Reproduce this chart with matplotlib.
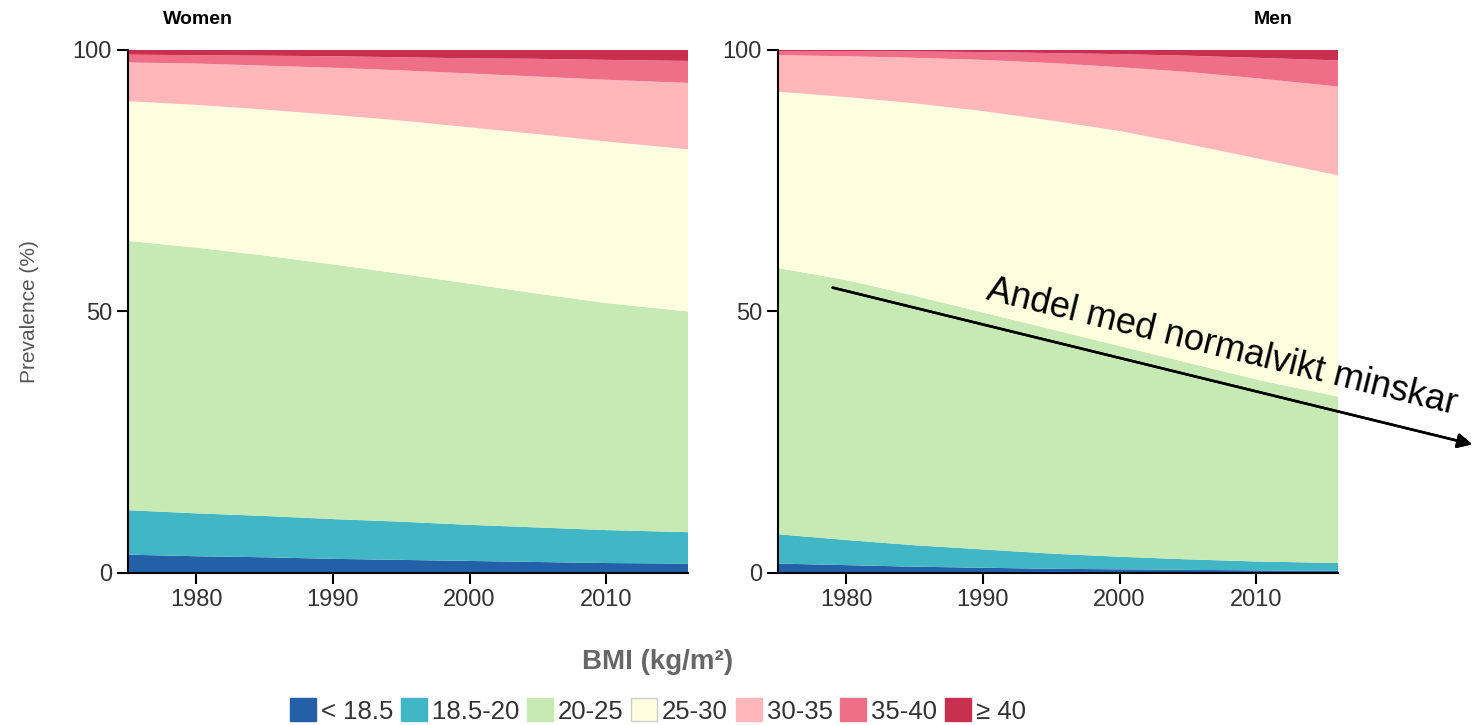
import matplotlib.pyplot as plt
from matplotlib.patches import Patch

plt.rcParams['font.family'] = ['Liberation Sans', 'DejaVu Sans']

years = [1975, 1980, 1985, 1990, 1995, 2000, 2005, 2010, 2016]
categories = ["< 18.5", "18.5-20", "20-25", "25-30", "30-35", "35-40", "\u2265 40"]
colors = ["#2460a7", "#41b6c4", "#c7e9b4", "#ffffe0", "#ffb7ba", "#ef6f89", "#c9304f"]

# share of population (%) in each BMI band
women = [
    [3.5, 3.2, 3.0, 2.7, 2.5, 2.3, 2.1, 1.9, 1.8],
    [8.5, 8.2, 7.9, 7.6, 7.3, 6.9, 6.6, 6.3, 6.0],
    [51.5, 50.8, 49.8, 48.7, 47.4, 46.1, 44.7, 43.4, 42.2],
    [26.7, 27.3, 27.9, 28.6, 29.3, 29.9, 30.5, 30.9, 31.0],
    [7.4, 7.9, 8.4, 9.0, 9.6, 10.3, 11.0, 11.8, 12.7],
    [1.5, 1.6, 1.9, 2.2, 2.5, 2.9, 3.4, 3.8, 4.2],
    [0.9, 1.0, 1.1, 1.2, 1.4, 1.6, 1.7, 1.9, 2.1],
]
men = [
    [1.8, 1.5, 1.2, 1.0, 0.8, 0.7, 0.6, 0.5, 0.4],
    [5.6, 4.8, 4.1, 3.5, 2.9, 2.4, 2.0, 1.7, 1.5],
    [50.9, 49.7, 47.7, 45.3, 42.9, 40.3, 37.6, 34.8, 31.8],
    [33.7, 35.0, 36.8, 38.5, 39.9, 41.1, 41.8, 42.3, 42.3],
    [7.0, 7.8, 8.7, 9.8, 11.0, 12.2, 13.8, 15.3, 17.0],
    [0.8, 1.0, 1.2, 1.5, 1.9, 2.5, 3.1, 3.9, 5.0],
    [0.2, 0.2, 0.3, 0.4, 0.6, 0.8, 1.1, 1.5, 2.0],
]

fig = plt.figure(figsize=(14.78, 7.25), dpi=100)
ax1 = fig.add_axes([0.0866, 0.2097, 0.379, 0.7214])
ax2 = fig.add_axes([0.5264, 0.2097, 0.379, 0.7214])

for ax, data in [(ax1, women), (ax2, men)]:
    ax.stackplot(years, data, colors=colors, linewidth=0)
    ax.set_xlim(1975, 2016)
    ax.set_ylim(0, 100)
    ax.set_xticks([1980, 1990, 2000, 2010])
    ax.set_yticks([0, 50, 100])
    ax.spines['top'].set_visible(False)
    ax.spines['right'].set_visible(False)
    ax.spines['left'].set_linewidth(1.5)
    ax.spines['bottom'].set_linewidth(1.5)
    ax.tick_params(labelsize=17, labelcolor='#333333', width=1.5, length=8)

ax1.set_ylabel("Prevalence (%)", fontsize=15, color='#555555', labelpad=24)

fig.text(163 / 1478, 1 - 20 / 725, "Women", fontsize=14, fontweight='bold',
         ha='left', va='center')
fig.text(1293 / 1478, 1 - 20 / 725, "Men", fontsize=14, fontweight='bold',
         ha='right', va='center')

fig.text(658 / 1478, 1 - 662 / 725, "BMI (kg/m\u00b2)", fontsize=20,
         fontweight='bold', color='#666666', ha='center', va='center')

handles = [Patch(facecolor=c, edgecolor='#cccccc' if c == "#ffffe0" else c)
           for c in colors]
fig.legend(handles, categories, loc='center', bbox_to_anchor=(658 / 1478, 1 - 711 / 725),
           ncol=7, frameon=False, fontsize=18.5, handlelength=1.0, handleheight=1.0,
           handletextpad=0.2, columnspacing=0.3, labelcolor='#333333')

# annotation arrow across the men panel
fig.add_artist(plt.annotate("", xy=(1475 / 1478, 1 - 445 / 725),
                            xytext=(830 / 1478, 1 - 287 / 725),
                            xycoords='figure fraction', textcoords='figure fraction',
                            arrowprops=dict(arrowstyle='-|>', color='black', lw=1.8,
                                            mutation_scale=22)))
fig.text(1222 / 1478, 1 - 347 / 725, "Andel med normalvikt minskar", fontsize=26,
         rotation=-13.8, rotation_mode='anchor', ha='center', va='center')

fig.savefig("out.png", dpi=100)
